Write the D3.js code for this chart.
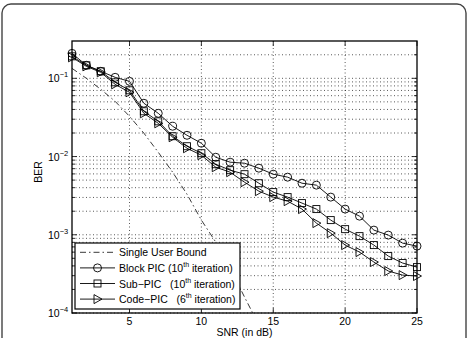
<!DOCTYPE html>
<html>
<head>
<meta charset="utf-8" />
<title>BER vs SNR</title>
<script src="https://cdn.jsdelivr.net/npm/d3@7"></script>
<style>
  body { margin: 0; background: #fff; }
  svg { font-family: "Liberation Sans", Arial, sans-serif; }
</style>
</head>
<body>
<script>
// data
var snr = [1, 2, 3, 4, 5, 6, 7, 8, 9, 10, 11, 12, 13, 14, 15, 16, 17, 18, 19, 20, 21, 22, 23, 24, 25];
var snrBound = [1, 2, 3, 4, 5, 6, 7, 8, 9, 10, 11, 12, 13, 14];
var singleUser = [0.134, 0.1, 0.0724, 0.0508, 0.0327, 0.0199, 0.01135, 0.00631, 0.0033, 0.00154,
                  0.000806, 0.000375, 0.00016, 0.0000703];
var blockPIC = [0.2086, 0.1466, 0.1229, 0.103, 0.0915, 0.048, 0.0357, 0.0244, 0.0187, 0.0148,
                0.0098, 0.00847, 0.00822, 0.0071, 0.00595, 0.00545, 0.00456, 0.00431, 0.00303, 0.00213,
                0.00173, 0.001147, 0.00099, 0.000782, 0.000716];
var subPIC = [0.191, 0.1466, 0.1229, 0.0889, 0.0703, 0.0379, 0.0282, 0.0182, 0.01355, 0.01103,
              0.00798, 0.00669, 0.00595, 0.00456, 0.00351, 0.00303, 0.00254, 0.00213, 0.00154, 0.00118,
              0.000961, 0.000738, 0.000534, 0.000435, 0.000386];
var codePIC = [0.1854, 0.1422, 0.1193, 0.0838, 0.0663, 0.0357, 0.0266, 0.01765, 0.01277, 0.0104,
               0.00731, 0.00631, 0.0047, 0.00361, 0.00303, 0.00269, 0.00213, 0.00141, 0.00105, 0.000738,
               0.000601, 0.000448, 0.000344, 0.000305, 0.000297];
var xTicks = [5, 10, 15, 20, 25];
var yMajor = [1e-4, 1e-3, 1e-2, 1e-1];
var yExp = ["\u22124", "\u22123", "\u22122", "\u22121"];
var legendLabels = [
  ["Single User Bound", "", ""],
  ["Block PIC (10", "th", " iteration)"],
  ["Sub\u2212PIC   (10", "th", " iteration)"],
  ["Code\u2212PIC   (6", "th", " iteration)"]
];

var width = 471, height = 338;
var xLeft = 72, xRight = 417, yTop = 41, yBottom = 313;

var x = d3.scaleLinear().domain([1, 25]).range([xLeft, xRight]);
var y = d3.scaleLog().domain([1e-4, 0.3]).range([yBottom, yTop]);

var svg = d3.select("body").append("svg")
    .attr("width", width)
    .attr("height", height);

// outer frame
svg.append("rect")
    .attr("x", 2).attr("y", 4)
    .attr("width", 464).attr("height", 400)
    .attr("rx", 9)
    .attr("fill", "none")
    .attr("stroke", "#444")
    .attr("stroke-width", 1.4);

svg.append("clipPath").attr("id", "plotclip")
  .append("rect")
    .attr("x", xLeft).attr("y", yTop)
    .attr("width", xRight - xLeft).attr("height", yBottom - yTop);

// minor y values
var yMinor = [];
[-4, -3, -2, -1].forEach(function(d) {
  for (var k = 2; k <= 9; k++) {
    var v = k * Math.pow(10, d);
    if (v < 0.3) yMinor.push(v);
  }
});

// grid
var grid = svg.append("g").attr("class", "grid")
    .attr("stroke", "#111")
    .attr("stroke-width", 0.7)
    .attr("stroke-dasharray", "1,2.5");

grid.selectAll("line.hx")
    .data(yMajor.concat(yMinor))
  .enter().append("line")
    .attr("x1", xLeft).attr("x2", xRight)
    .attr("y1", function(d) { return y(d); })
    .attr("y2", function(d) { return y(d); });

grid.selectAll("line.vx")
    .data(xTicks.slice(0, 4))
  .enter().append("line")
    .attr("y1", yTop).attr("y2", yBottom)
    .attr("x1", function(d) { return x(d); })
    .attr("x2", function(d) { return x(d); });

// ticks (inward, all four sides)
var ticks = svg.append("g").attr("stroke", "#000").attr("stroke-width", 0.8);
xTicks.forEach(function(d) {
  ticks.append("line").attr("x1", x(d)).attr("x2", x(d)).attr("y1", yBottom).attr("y2", yBottom - 5);
  ticks.append("line").attr("x1", x(d)).attr("x2", x(d)).attr("y1", yTop).attr("y2", yTop + 5);
});
yMajor.forEach(function(d) {
  ticks.append("line").attr("x1", xLeft).attr("x2", xLeft + 5).attr("y1", y(d)).attr("y2", y(d));
  ticks.append("line").attr("x1", xRight).attr("x2", xRight - 5).attr("y1", y(d)).attr("y2", y(d));
});
yMinor.forEach(function(d) {
  ticks.append("line").attr("x1", xLeft).attr("x2", xLeft + 3).attr("y1", y(d)).attr("y2", y(d));
  ticks.append("line").attr("x1", xRight).attr("x2", xRight - 3).attr("y1", y(d)).attr("y2", y(d));
});

// tick labels
svg.selectAll("text.xt")
    .data(xTicks)
  .enter().append("text")
    .attr("x", function(d) { return x(d); })
    .attr("y", yBottom + 12)
    .attr("text-anchor", "middle")
    .attr("font-size", "10.5px")
    .text(function(d) { return d; });

var yt = svg.selectAll("text.yt")
    .data(yMajor)
  .enter().append("text")
    .attr("x", 48)
    .attr("y", function(d) { return y(d) + 4; })
    .attr("font-size", "10.5px");
yt.append("tspan").text("10");
yt.append("tspan")
    .attr("dy", -5)
    .attr("font-size", "7.5px")
    .text(function(d, i) { return yExp[i]; });

// axis titles
svg.append("text")
    .attr("transform", "translate(41.5,172) rotate(-90)")
    .attr("text-anchor", "middle")
    .attr("font-size", "10.5px")
    .text("BER");
svg.append("text")
    .attr("x", (xLeft + xRight) / 2)
    .attr("y", 335.5)
    .attr("text-anchor", "middle")
    .attr("font-size", "10.5px")
    .text("SNR (in dB)");

// curves
var plot = svg.append("g").attr("clip-path", "url(#plotclip)");

function lineOf(xs) {
  return d3.line()
    .x(function(d, i) { return x(xs[i]); })
    .y(function(d) { return y(d); });
}

plot.append("path")
    .datum(singleUser)
    .attr("d", lineOf(snrBound))
    .attr("fill", "none")
    .attr("stroke", "#222")
    .attr("stroke-width", 0.9)
    .attr("stroke-dasharray", "6,3,1.5,3");

var series = [
  {vals: blockPIC, marker: "circle"},
  {vals: subPIC, marker: "square"},
  {vals: codePIC, marker: "tri"}
];

function drawMarker(g, type, cx, cy) {
  if (type === "circle") {
    g.append("circle").attr("cx", cx).attr("cy", cy).attr("r", 4);
  } else if (type === "square") {
    g.append("rect").attr("x", cx - 3.5).attr("y", cy - 3.5).attr("width", 7).attr("height", 7);
  } else {
    g.append("path").attr("d", "M" + (cx - 3.5) + "," + (cy - 4.5) + "L" + (cx + 4.5) + "," + cy +
                           "L" + (cx - 3.5) + "," + (cy + 4.5) + "Z");
  }
}

series.forEach(function(s) {
  svg.append("path")
      .datum(s.vals)
      .attr("d", lineOf(snr))
      .attr("fill", "none")
      .attr("stroke", "#000")
      .attr("stroke-width", 0.9);
  var mg = svg.append("g").attr("fill", "none").attr("stroke", "#000").attr("stroke-width", 0.9);
  s.vals.forEach(function(v, i) {
    drawMarker(mg, s.marker, x(snr[i]), y(v));
  });
});

// axes box
svg.append("rect")
    .attr("x", xLeft).attr("y", yTop)
    .attr("width", xRight - xLeft).attr("height", yBottom - yTop)
    .attr("fill", "none")
    .attr("stroke", "#000")
    .attr("stroke-width", 1.3);

// legend
var lg = svg.append("g");
lg.append("rect")
    .attr("x", 75).attr("y", 243)
    .attr("width", 165).attr("height", 66)
    .attr("fill", "#fff")
    .attr("stroke", "#000")
    .attr("stroke-width", 1.2);

var markers = ["none", "circle", "square", "tri"];
legendLabels.forEach(function(lab, i) {
  var cy = 252.3 + i * 15.6;
  var ln = lg.append("line")
      .attr("x1", 80).attr("x2", 115)
      .attr("y1", cy).attr("y2", cy)
      .attr("stroke", i === 0 ? "#222" : "#000")
      .attr("stroke-width", 0.9);
  if (i === 0) ln.attr("stroke-dasharray", "6,3,1.5,3");
  else {
    var mg = lg.append("g").attr("fill", "none").attr("stroke", "#000").attr("stroke-width", 0.9);
    drawMarker(mg, markers[i], 97.5, cy);
  }
  var t = lg.append("text")
      .attr("x", 119)
      .attr("y", cy + 4)
      .attr("font-size", "10.5px")
      .style("white-space", "pre")
      .attr("xml:space", "preserve");
  t.append("tspan").text(lab[0]);
  if (lab[1]) {
    t.append("tspan").attr("dy", -5).attr("font-size", "7px").text(lab[1]);
    t.append("tspan").attr("dy", 5).text(lab[2]);
  }
});
</script>
</body>
</html>
